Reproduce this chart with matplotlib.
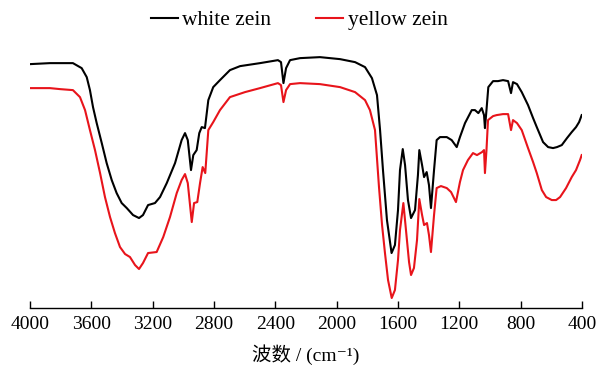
import matplotlib
matplotlib.use("Agg")
import matplotlib.pyplot as plt

plt.rcParams['font.family'] = ['Liberation Serif', 'Noto Sans CJK SC', 'DejaVu Sans']

# White zein spectrum (wavenumber cm^-1, transmittance a.u.)
white_wn = [4000, 3870, 3804, 3720, 3663, 3630, 3609, 3589, 3565, 3532, 3500, 3467, 3435, 3402,
            3369, 3328, 3289, 3263, 3230, 3185, 3152, 3108, 3054, 3011, 2989, 2971, 2950, 2935,
            2913, 2896, 2880, 2859, 2837, 2805, 2761, 2696, 2630, 2500, 2383, 2363, 2347, 2330,
            2304, 2239, 2109, 1978, 1880, 1815, 1770, 1737, 1717, 1698, 1672, 1642, 1620, 1600,
            1587, 1569, 1554, 1535, 1515, 1489, 1470, 1461, 1443, 1430, 1413, 1398, 1385, 1365,
            1348, 1326, 1282, 1250, 1217, 1196, 1163, 1119, 1098, 1076, 1054, 1039, 1033, 1023,
            1011, 980, 948, 915, 882, 863, 850, 824, 793, 752, 719, 695, 654, 621, 589, 563, 532,
            498, 467, 439, 419, 402]
white_t = [244, 245, 245, 245, 240, 231, 218, 201, 185, 165, 145, 128, 115, 105,
           100, 93, 90, 93, 103, 105, 111, 125, 145, 168, 175, 168, 138, 153,
           158, 175, 181, 180, 208, 221, 228, 238, 242, 245, 248, 246, 225, 240,
           248, 250, 251, 249, 246, 241, 230, 213, 178, 138, 88, 55, 63, 98,
           138, 159, 143, 108, 90, 98, 133, 158, 143, 131, 136, 123, 100, 138,
           168, 171, 171, 168, 161, 171, 185, 198, 198, 195, 200, 193, 180, 198,
           221, 227, 227, 228, 227, 215, 226, 224, 216, 203, 190, 181, 166, 161, 160, 161, 163,
           170, 176, 181, 186, 193]

# Yellow zein spectrum
yellow_wn = [4000, 3870, 3804, 3720, 3674, 3641, 3609, 3576, 3543, 3511, 3478, 3446, 3413, 3380,
             3348, 3315, 3289, 3263, 3230, 3174, 3131, 3087, 3043, 3011, 2989, 2971, 2945, 2930,
             2909, 2891, 2874, 2857, 2837, 2805, 2761, 2696, 2598, 2500, 2383, 2363, 2347, 2330,
             2304, 2239, 2109, 1978, 1880, 1815, 1783, 1750, 1724, 1704, 1685, 1665, 1641, 1620,
             1600, 1587, 1565, 1548, 1528, 1515, 1496, 1476, 1461, 1443, 1430, 1411, 1398, 1385,
             1365, 1348, 1320, 1282, 1254, 1222, 1196, 1176, 1144, 1111, 1085, 1052, 1039, 1033,
             1023, 1013, 980, 957, 915, 882, 863, 850, 824, 793, 752, 719, 695, 662, 634, 597, 569,
             543, 504, 467, 439, 413, 402]
yellow_t = [220, 220, 219, 218, 211, 198, 178, 158, 135, 111, 91, 75, 61, 54,
            51, 43, 39, 45, 55, 56, 71, 91, 115, 128, 134, 125, 86, 105,
            106, 125, 141, 135, 178, 186, 198, 211, 216, 220, 225, 223, 206, 218,
            224, 225, 224, 221, 216, 208, 198, 178, 121, 83, 55, 28, 10, 18,
            48, 78, 105, 78, 46, 33, 40, 68, 109, 93, 83, 85, 73, 56,
            93, 120, 122, 120, 116, 106, 126, 138, 148, 155, 153, 156, 158, 135,
            158, 188, 192, 193, 194, 194, 178, 188, 185, 178, 160, 146, 135, 118, 111, 108, 108,
            111, 120, 131, 138, 148, 153]

labels = ["white zein", "yellow zein"]
xticks = [4000, 3600, 3200, 2800, 2400, 2000, 1600, 1200, 800, 400]

fig = plt.figure(figsize=(6.01, 3.71), dpi=100)
ax = fig.add_axes([0.0499, 0.1698, 0.9185, 0.722])

ax.plot(white_wn, white_t, color='black', lw=1.5, label=labels[0])
ax.plot(yellow_wn, yellow_t, color='#e8141b', lw=1.5, label=labels[1])

ax.set_xlim(4000, 400)
ax.set_ylim(0, 268)
ax.set_xticks(xticks)
ax.set_xticklabels([str(t) for t in xticks], fontsize=14)
ax.tick_params(axis='x', direction='in', length=5, width=1, pad=6)
ax.set_yticks([])
for s in ['left', 'right', 'top']:
    ax.spines[s].set_visible(False)
ax.spines['bottom'].set_linewidth(1)

ax.set_xlabel('波数 / (cm\u207b\u00b9)', fontsize=14, labelpad=8)

fig.legend(loc='center', bbox_to_anchor=(0.498, 0.946), ncol=2, frameon=False,
           fontsize=15.5, handlelength=1.25, handletextpad=0.2, columnspacing=2.1)

fig.savefig('out.png', dpi=100)
